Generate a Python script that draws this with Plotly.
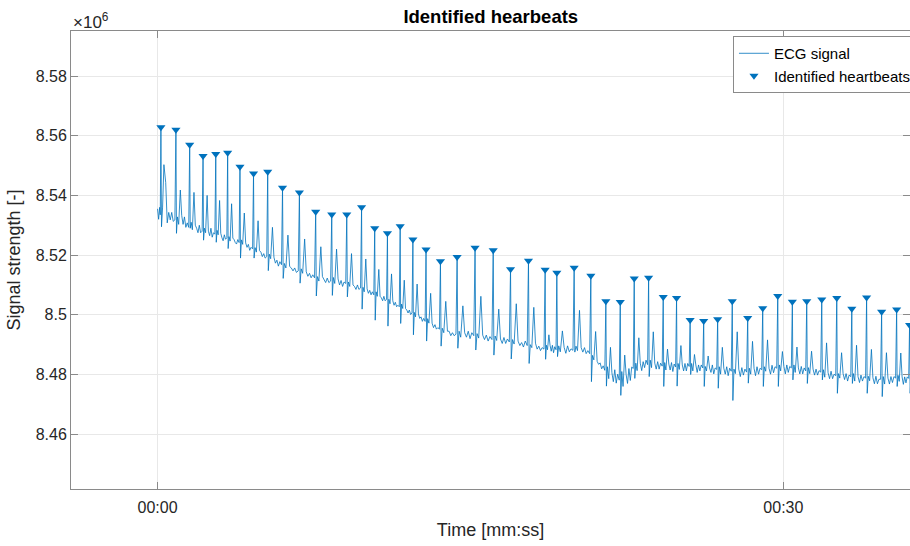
import plotly.graph_objects as go

# ---------------- data (signal values in thousands) ----------------
lead_t = [0.0, 0.05, 0.10, 0.13]
lead_k = [8535.5, 8532.0, 8536.0, 8533.5]

beat_t = [0.16, 0.88, 1.54, 2.18, 2.79, 3.36, 3.95, 4.60, 5.28, 5.99,
          6.80, 7.58, 8.35, 9.07, 9.78, 10.41, 11.02, 11.63, 12.24, 12.87,
          13.56, 14.36, 15.22, 16.09, 16.92, 17.78, 18.58, 19.14, 19.97, 20.77,
          21.49, 22.18, 22.85, 23.54, 24.24, 24.88, 25.53, 26.18, 26.85, 27.55,
          28.29, 29.01, 29.73, 30.43, 31.12, 31.84, 32.56, 33.28, 33.99, 34.71,
          35.43, 36.05]

beat_peak_k = [8562.8, 8562.0, 8557.0, 8553.2, 8553.9, 8554.3, 8549.6, 8547.3, 8547.9, 8542.6,
               8541.0, 8534.5, 8533.6, 8533.6, 8536.0, 8529.0, 8527.3, 8529.7, 8525.2, 8521.9,
               8517.9, 8519.4, 8522.5, 8521.6, 8515.3, 8518.1, 8515.1, 8514.1, 8515.8, 8513.1,
               8504.5, 8504.3, 8512.2, 8512.4, 8506.0, 8505.6, 8498.3, 8497.9, 8498.5, 8504.5,
               8498.9, 8502.2, 8506.3, 8504.4, 8504.5, 8505.1, 8505.6, 8502.0, 8505.8, 8501.0,
               8501.8, 8496.6]

baseline_k = [8534.3, 8532.3, 8530.0, 8528.5, 8527.3, 8526.2, 8524.6, 8522.5, 8519.8, 8517.2,
              8514.9, 8512.8, 8511.5, 8510.5, 8509.2, 8507.2, 8505.2, 8503.1, 8500.8, 8498.2,
              8495.5, 8493.5, 8493.2, 8491.9, 8491.2, 8490.0, 8488.8, 8488.6, 8488.5, 8487.4,
              8481.6, 8479.0, 8482.3, 8483.8, 8483.0, 8482.7, 8482.7, 8482.2, 8481.6, 8481.3,
              8481.1, 8481.6, 8482.2, 8482.2, 8481.3, 8480.6, 8479.8, 8479.3, 8478.9, 8478.3,
              8478.7, 8478.7]

# fraction of each beat-to-beat interval at which the readings below were taken
beat_phase = [0.04, 0.11, 0.20, 0.32, 0.42, 0.52, 0.62, 0.72, 0.82, 0.93]

# readings after each beat relative to its baseline: S, return, n1, T, T-fall, n2..n5, pre-next
beat_offsets_k = [
    [-4.8, 1.5, 16.0, 10.0, -3.5, 0.0, -2.5, 0.0, -3.0, -2.5],
    [-5.0, 0.5, -2.0, 9.5, 1.0, -2.0, 0.5, -3.0, -1.5, -3.0],
    [-1.0, 1.0, -1.5, 11.0, 0.0, -1.0, -2.5, 0.0, -2.5, -2.0],
    [-3.5, 0.5, -1.0, 11.5, -0.5, -2.0, 0.5, -2.5, -1.0, -1.5],
    [-3.0, 1.0, -0.5, 11.0, 0.0, -1.5, -2.5, -0.5, -2.0, -1.5],
    [-4.0, 0.0, -1.5, 11.0, -0.5, -1.0, -2.0, -2.5, -1.0, -2.0],
    [-5.6, 0.5, -1.0, 9.5, -0.5, -2.0, -1.0, -3.0, -2.0, -2.5],
    [-3.5, 0.0, -1.5, 9.0, -1.0, -1.5, -3.0, -2.0, -3.5, -3.0],
    [-5.0, 0.5, -1.0, 9.5, -0.5, -2.5, -1.5, -3.5, -2.0, -3.0],
    [-5.0, 0.0, -1.5, 9.5, -1.0, -1.5, -2.5, -1.5, -3.0, -2.5],
    [-4.3, 0.5, -1.0, 10.5, -0.5, -2.0, -1.0, -2.5, -1.5, -2.5],
    [-6.5, 0.0, -1.5, 10.0, 0.0, -1.0, -2.0, -0.5, -2.0, -1.5],
    [-5.0, 1.0, -1.0, 10.5, 0.5, -1.5, 0.0, -2.0, -0.5, -1.0],
    [-4.5, 0.5, -1.0, 10.0, -0.5, -1.0, -2.0, -0.5, -2.0, -1.5],
    [-7.3, 0.0, -1.5, 9.5, -0.5, -2.0, -1.0, -2.5, -1.5, -2.5],
    [-9.0, 0.5, -1.0, 8.0, -1.0, -1.5, -2.5, -1.0, -2.5, -2.0],
    [-9.0, 0.0, -1.5, 8.5, -0.5, -2.0, -1.0, -2.5, -2.0, -2.5],
    [-6.0, 0.5, -1.0, 8.5, -1.0, -1.5, -2.5, -1.5, -3.0, -2.5],
    [-7.5, 0.0, -1.5, 9.5, -0.5, -2.0, -1.5, -3.0, -2.0, -3.0],
    [-7.0, 0.5, -1.0, 9.0, -1.0, -2.5, -1.5, -3.0, -2.5, -3.0],
    [-6.0, 0.0, -1.5, 9.0, -1.0, -1.0, -2.5, -1.5, -2.5, -2.0],
    [-4.7, 1.0, -1.0, 9.5, 0.5, -1.0, 1.0, -1.5, 0.5, -0.5],
    [-5.0, 0.5, -1.0, 13.0, 0.0, -1.5, 0.0, -2.0, -0.5, -1.5],
    [-5.4, 1.0, -0.5, 10.0, 0.0, -1.5, 0.5, -1.5, 0.0, -1.0],
    [-6.0, 0.5, -1.0, 12.5, 0.0, -1.5, -0.5, -2.0, 0.0, -1.5],
    [-6.3, 0.0, -1.0, 12.5, 0.5, -1.5, -0.5, -2.0, -1.0, -1.5],
    [-3.7, 1.0, -0.5, 4.5, 1.0, -1.0, 1.0, -1.5, 0.5, -0.5],
    [-2.6, 1.0, -1.0, 6.0, 0.5, -1.5, 1.0, -1.0, 0.0, -0.5],
    [-1.0, 1.0, -0.5, 13.0, 0.5, -1.0, 0.5, -1.5, -0.5, -1.5],
    [-9.8, -1.0, -2.5, 7.0, -3.0, -4.0, -3.5, -5.5, -4.5, -6.0],
    [-5.5, 1.0, -3.0, 7.5, -1.0, -4.0, 0.0, -4.5, -1.5, -3.5],
    [-6.0, 2.0, -3.0, 7.5, 1.0, -2.0, 3.0, -1.0, 3.5, 3.0],
    [-3.6, 1.5, -1.0, 10.0, 1.5, -1.0, 2.0, 0.0, 2.5, 1.0],
    [-4.5, 1.0, -1.5, 10.5, 0.0, -2.0, 0.5, -2.0, 0.0, -1.0],
    [-7.0, 1.0, -1.5, 5.5, 0.5, -1.5, 1.0, -2.0, 0.5, -0.5],
    [-6.6, 1.0, -1.0, 7.0, 0.5, -1.5, 1.0, -1.5, 1.0, 0.0],
    [-2.7, 1.0, -1.5, 4.0, 0.5, -2.0, 0.5, -1.5, 0.5, -0.5],
    [-6.2, 0.5, -1.0, 4.0, 0.0, -1.5, 1.0, -2.0, 0.0, -0.5],
    [-6.2, 1.0, -1.5, 7.5, 0.5, -1.5, 1.0, -2.0, 0.5, -0.5],
    [-10.0, 0.5, -1.0, 13.0, 0.5, -2.0, 1.0, -1.5, 0.5, -0.5],
    [-4.0, 1.0, -1.0, 10.0, 1.0, -1.5, 1.5, -1.0, 1.0, 0.5],
    [-5.6, 1.0, -0.5, 10.0, 0.5, -1.5, 1.5, -1.0, 1.0, 0.5],
    [-6.2, 1.0, -1.0, 5.5, 0.5, -2.0, 1.0, -1.5, 0.5, 0.0],
    [-4.0, 1.0, -1.5, 7.0, 0.0, -2.0, 0.5, -2.0, 0.0, -1.0],
    [-4.3, 1.0, -1.0, 6.5, 0.5, -1.5, 0.5, -1.5, 0.0, -0.5],
    [-2.4, 1.0, -1.5, 10.0, 0.0, -2.0, 0.5, -2.0, -0.5, -1.0],
    [-6.1, 0.5, -1.0, 7.5, 0.5, -1.5, 0.5, -2.0, 0.0, -0.5],
    [-2.3, 1.0, -1.5, 10.5, 0.0, -2.0, 0.5, -1.5, 0.0, -0.5],
    [-5.2, 0.5, -1.0, 9.5, 0.0, -2.0, 0.5, -2.0, -0.5, -0.5],
    [-5.7, 1.0, -1.5, 9.0, 0.5, -1.5, 1.0, -1.0, 1.0, 0.5],
    [-2.7, 1.0, -1.0, 8.5, 0.5, -2.0, 0.5, -1.5, 0.5, 0.0],
    [-5.0, 1.0, -1.0, 9.0, 0.5, -1.5, 0.5, -1.5, 0.5, 0.0],
]
last_interval_s = 0.65

y_tick_vals = [8.46, 8.48, 8.50, 8.52, 8.54, 8.56, 8.58]
y_tick_text = ["8.46", "8.48", "8.5", "8.52", "8.54", "8.56", "8.58"]
x_tick_vals = [0, 30]
x_tick_text = ["00:00", "00:30"]

# ---------------- build signal ----------------
sig_t = list(lead_t)
sig_k = list(lead_k)
n = len(beat_t)
for i in range(n):
    rr = beat_t[i + 1] - beat_t[i] if i < n - 1 else last_interval_s
    sig_t.append(beat_t[i])
    sig_k.append(beat_peak_k[i])
    for p, o in zip(beat_phase, beat_offsets_k[i]):
        sig_t.append(beat_t[i] + p * rr)
        sig_k.append(baseline_k[i] + o)

sig_m = [v / 1000.0 for v in sig_k]
peak_m = [v / 1000.0 for v in beat_peak_k]

BLUE = "#0072BD"
FONT = "Liberation Sans, Arial, sans-serif"
TXT = "#262626"

fig = go.Figure()
fig.add_trace(go.Scatter(x=sig_t, y=sig_m, mode="lines", name="ECG signal",
                         line=dict(color=BLUE, width=0.8)))
fig.add_trace(go.Scatter(x=beat_t, y=peak_m, mode="markers", name="Identified heartbeats",
                         marker=dict(symbol="triangle-down", size=8, color=BLUE)))

axis_common = dict(showline=True, linecolor="#8a8a8a", linewidth=1, mirror="ticks",
                   ticks="inside", ticklen=7, tickcolor="#8a8a8a",
                   showgrid=True, gridcolor="#e8e8e8", gridwidth=1, zeroline=False,
                   tickfont=dict(family=FONT, size=16, color=TXT))

fig.update_xaxes(range=[-4.15, 36.07], tickvals=x_tick_vals, ticktext=x_tick_text,
                 ticklabelstandoff=4,
                 title=dict(text="Time [mm:ss]", font=dict(family=FONT, size=18, color=TXT),
                            standoff=8),
                 **axis_common)
fig.update_yaxes(range=[8.44164, 8.59508], tickvals=y_tick_vals, ticktext=y_tick_text,
                 title=dict(text="Signal strength [-]", font=dict(family=FONT, size=18, color=TXT),
                            standoff=10),
                 **axis_common)

fig.update_layout(
    width=910, height=546,
    margin=dict(l=71, r=0, t=31, b=57, autoexpand=False),
    paper_bgcolor="white", plot_bgcolor="white",
    title=dict(text="<b>Identified hearbeats</b>", x=0.5393, xanchor="center",
               y=1 - 17 / 546, yanchor="middle", yref="container",
               font=dict(family=FONT, size=18.5, color="#000000")),
    legend=dict(x=0.789, y=0.989, xanchor="left", yanchor="top",
                bgcolor="white", bordercolor="#8a8a8a", borderwidth=1,
                font=dict(family=FONT, size=15, color="#000000"),
                tracegroupgap=0, itemwidth=30),
    showlegend=True,
    annotations=[dict(text="×10<sup>6</sup>", xref="paper", yref="paper", x=0, y=1,
                      xanchor="left", yanchor="bottom", yshift=-3, showarrow=False,
                      font=dict(family=FONT, size=17, color=TXT))],
)

fig.write_html("out.html")
